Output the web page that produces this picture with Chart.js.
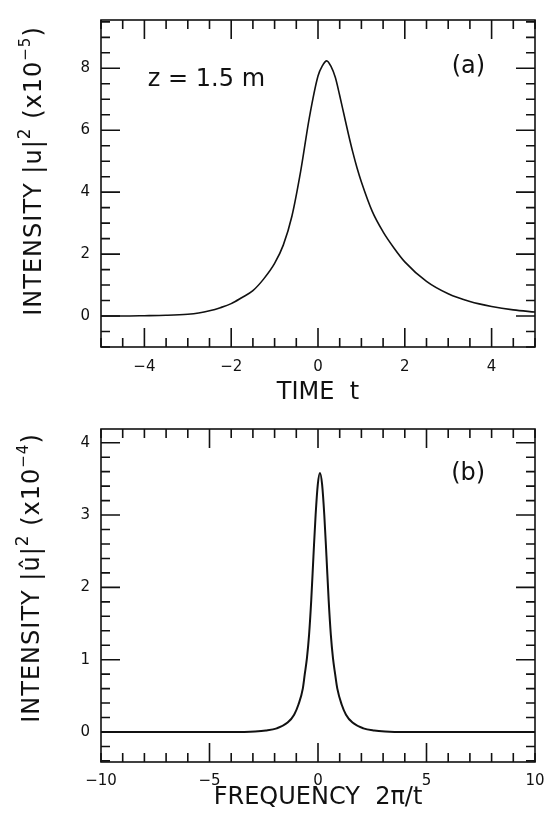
<!DOCTYPE html>
<html>
<head>
<meta charset="utf-8">
<script src="https://cdn.jsdelivr.net/npm/chart.js@4.4.1/dist/chart.umd.min.js"></script>
<style>
html, body { margin: 0; padding: 0; background: #fff; }
#wrap { position: relative; width: 547px; height: 818px; }
.box { position: absolute; left: 0; width: 547px; height: 409px; }
</style>
</head>
<body>
<div id="wrap">
  <div class="box" style="top:0"><canvas id="chartA"></canvas></div>
  <div class="box" style="top:409px"><canvas id="chartB"></canvas></div>
</div>
<script>
// (a) intensity vs time, units of 1e-5
var timeT      = [-5, -4.5, -4, -3.5, -3, -2.75, -2.5, -2.25, -2, -1.75, -1.5, -1.25, -1, -0.8, -0.6, -0.4, -0.2, 0, 0.1, 0.2, 0.3, 0.4, 0.5, 0.6, 0.7, 0.8, 0.9, 1, 1.25, 1.5, 1.75, 2, 2.5, 3, 3.5, 4, 4.5, 5];
var intensityA = [0, 0, 0.01, 0.025, 0.06, 0.1, 0.17, 0.27, 0.4, 0.6, 0.82, 1.2, 1.7, 2.29, 3.23, 4.67, 6.4, 7.75, 8.08, 8.24, 8.06, 7.7, 7.12, 6.5, 5.88, 5.3, 4.78, 4.33, 3.38, 2.72, 2.2, 1.75, 1.12, 0.72, 0.47, 0.31, 0.2, 0.13];

// (b) spectral intensity vs frequency, units of 1e-4
var freqW      = [-10, -4, -2.9, -2.4, -1.9, -1.4, -1.1, -0.9, -0.7, -0.61, -0.51, -0.41, -0.31, -0.21, -0.11, -0.01, 0.09, 0.19, 0.29, 0.39, 0.49, 0.59, 0.69, 0.79, 0.89, 1.09, 1.29, 1.59, 2.09, 2.59, 3.09, 4, 10];
var intensityB = [0, 0, 0.007, 0.02, 0.05, 0.13, 0.24, 0.38, 0.6, 0.8, 1.02, 1.35, 1.83, 2.43, 3.0, 3.42, 3.58, 3.42, 3.0, 2.43, 1.83, 1.35, 1.02, 0.8, 0.6, 0.38, 0.24, 0.13, 0.05, 0.02, 0.007, 0, 0];

var xTicksA = [-4, -2, 0, 2, 4];
var yTicksA = [0, 2, 4, 6, 8];
var xTicksB = [-10, -5, 0, 5, 10];
var yTicksB = [0, 1, 2, 3, 4];

var INK = '#111';
var FONT = '"DejaVu Sans", "Liberation Sans", Arial, sans-serif';

function pts(xs, ys) {
	return xs.map(function(x, i) { return {x: x, y: ys[i]}; });
}
function fmt(v) {
	return v < 0 ? '\u2212' + Math.abs(v) : String(v);
}
function isMajor(v, list) {
	for (var i = 0; i < list.length; i++) if (Math.abs(list[i] - v) < 1e-6) return true;
	return false;
}

// closed frame with inward ticks on all four sides, plus text labels
var frameTicks = {
	id: 'frameTicks',
	afterDraw: function(chart, args, o) {
		var ctx = chart.ctx, a = chart.chartArea;
		var xs = chart.scales.x, ys = chart.scales.y;
		ctx.save();
		ctx.strokeStyle = INK;
		ctx.lineWidth = 1.6;
		ctx.strokeRect(a.left, a.top, a.right - a.left, a.bottom - a.top);
		ctx.beginPath();
		var i, v, p, len;
		for (i = Math.ceil(xs.min / o.xStep); i * o.xStep <= xs.max + 1e-9; i++) {
			v = i * o.xStep;
			p = xs.getPixelForValue(v);
			len = isMajor(v, o.xMajor) ? o.majorLen : o.minorLen;
			ctx.moveTo(p, a.bottom); ctx.lineTo(p, a.bottom - len);
			ctx.moveTo(p, a.top); ctx.lineTo(p, a.top + len);
		}
		for (i = Math.ceil(ys.min / o.yStep); i * o.yStep <= ys.max + 1e-9; i++) {
			v = i * o.yStep;
			p = ys.getPixelForValue(v);
			len = isMajor(v, o.yMajor) ? o.majorLen : o.minorLen;
			ctx.moveTo(a.left, p); ctx.lineTo(a.left + len, p);
			ctx.moveTo(a.right, p); ctx.lineTo(a.right - len, p);
		}
		ctx.stroke();

		ctx.fillStyle = INK;
		ctx.textBaseline = 'middle';
		(o.notes || []).forEach(function(n) {
			ctx.font = n.size + 'px ' + FONT;
			ctx.textAlign = n.align;
			ctx.fillText(n.text, xs.getPixelForValue(n.x), ys.getPixelForValue(n.y));
		});

		// rotated y title with superscripts
		var t = o.yTitle;
		ctx.translate(t.x, t.y);
		ctx.rotate(-Math.PI / 2);
		ctx.textAlign = 'left';
		ctx.textBaseline = 'alphabetic';
		ctx.letterSpacing = '1px';
		var total = 0;
		t.parts.forEach(function(s) {
			ctx.font = s.size + 'px ' + FONT;
			total += ctx.measureText(s.text).width;
		});
		var cx = -total / 2;
		t.parts.forEach(function(s) {
			ctx.font = s.size + 'px ' + FONT;
			ctx.fillText(s.text, cx, 8 - (s.raise || 0));
			cx += ctx.measureText(s.text).width;
		});
		ctx.restore();
	}
};

function makeChart(id, cfg) {
	return new Chart(document.getElementById(id), {
		type: 'line',
		data: {
			datasets: [{
				data: pts(cfg.xs, cfg.ys),
				borderColor: INK,
				borderWidth: cfg.lw,
				pointRadius: 0,
				fill: false,
				cubicInterpolationMode: 'monotone'
			}]
		},
		options: {
			responsive: true,
			maintainAspectRatio: false,
			animation: false,
			events: [],
			layout: { padding: { top: cfg.padTop, right: 12, left: 0, bottom: 0 } },
			plugins: {
				legend: { display: false },
				tooltip: { enabled: false },
				frameTicks: cfg.frame
			},
			scales: {
				x: {
					type: 'linear',
					min: cfg.xMin, max: cfg.xMax,
					grid: { display: false, drawTicks: false },
					border: { display: false },
					afterBuildTicks: function(s) { s.ticks = cfg.xTicks.map(function(v) { return {value: v}; }); },
					afterFit: function(s) { s.height = cfg.xHeight; s.paddingLeft = 0; s.paddingRight = 0; },
					ticks: {
						autoSkip: false, maxRotation: 0, padding: cfg.xPad,
						color: INK, font: { family: FONT, size: 15 },
						callback: fmt
					},
					title: {
						display: true, text: cfg.xTitle, color: INK,
						font: { family: FONT, size: 24 },
						padding: { top: 0, bottom: cfg.xTitlePad }
					}
				},
				y: {
					min: cfg.yMin, max: cfg.yMax,
					grid: { display: false, drawTicks: false },
					border: { display: false },
					afterBuildTicks: function(s) { s.ticks = cfg.yTicks.map(function(v) { return {value: v}; }); },
					afterFit: function(s) { s.width = 101; },
					ticks: {
						autoSkip: false, padding: 11,
						color: INK, font: { family: FONT, size: 15 },
						callback: fmt
					}
				}
			}
		},
		plugins: [frameTicks]
	});
}

makeChart('chartA', {
	xs: timeT, ys: intensityA, lw: 1.6,
	xMin: -5, xMax: 5, yMin: -1, yMax: 9.56,
	xTicks: xTicksA, yTicks: yTicksA,
	padTop: 12, xHeight: 62, xPad: 11, xTitlePad: 2,
	xTitle: 'TIME  t',
	frame: {
		xStep: 0.5, yStep: 0.5, xMajor: xTicksA, yMajor: yTicksA,
		majorLen: 19, minorLen: 9,
		notes: [
			{ text: 'z = 1.5 m', x: -3.92, y: 7.62, size: 24, align: 'left' },
			{ text: '(a)', x: 3.85, y: 8.05, size: 24, align: 'right' }
		],
		yTitle: {
			x: 33, y: 171,
			parts: [
				{ text: 'INTENSITY |u|', size: 24 },
				{ text: '2', size: 17, raise: 11 },
				{ text: ' (x10', size: 24 },
				{ text: '\u22125', size: 15, raise: 11 },
				{ text: ')', size: 24 }
			]
		}
	}
});

makeChart('chartB', {
	xs: freqW, ys: intensityB, lw: 2,
	xMin: -10, xMax: 10, yMin: -0.415, yMax: 4.19,
	xTicks: xTicksB, yTicks: yTicksB,
	padTop: 19, xHeight: 56, xPad: 10, xTitlePad: 6,
	xTitle: 'FREQUENCY  2\u03c0/t',
	frame: {
		xStep: 1, yStep: 0.2, xMajor: [-5, 0, 5], yMajor: yTicksB,
		majorLen: 19, minorLen: 9,
		notes: [
			{ text: '(b)', x: 7.7, y: 3.57, size: 24, align: 'right' }
		],
		yTitle: {
			x: 31, y: 169,
			parts: [
				{ text: 'INTENSITY |\u00fb|', size: 24 },
				{ text: '2', size: 17, raise: 11 },
				{ text: ' (x10', size: 24 },
				{ text: '\u22124', size: 15, raise: 11 },
				{ text: ')', size: 24 }
			]
		}
	}
});
</script>
</body>
</html>
